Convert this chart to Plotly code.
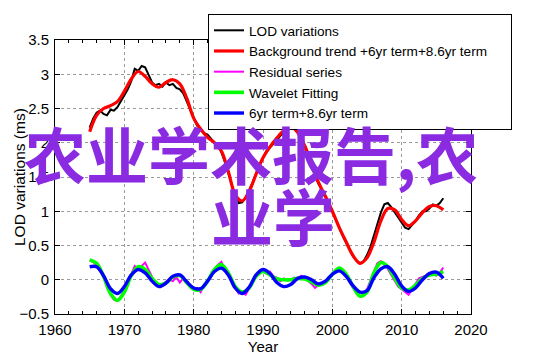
import plotly.graph_objects as go

# ---------------- data ----------------
years_half = [1965 + 0.5 * i for i in range(103)]   # 1965.0 ... 2016.0
years_full = list(range(1965, 2017))                 # 1965 ... 2016

lod_variations = [
    2.22, 2.35, 2.44, 2.47, 2.42, 2.40, 2.48, 2.47, 2.52, 2.60,   # 1965-1969.5
    2.70, 2.78, 2.90, 3.08, 3.05, 3.12, 3.10, 2.98, 2.88, 2.84,   # 1970-1974.5
    2.86, 2.82, 2.88, 2.84, 2.86, 2.80, 2.78, 2.72, 2.60, 2.48,   # 1975-1979.5
    2.35, 2.25, 2.20, 2.14, 2.12, 2.06, 2.00, 1.96, 1.86, 1.72,   # 1980-1984.5
    1.56, 1.38, 1.22, 1.12, 1.13, 1.20, 1.30, 1.42, 1.55, 1.68,   # 1985-1989.5
    1.78, 1.88, 1.93, 1.98, 2.04, 2.10, 2.15, 2.22, 2.30, 2.28,   # 1990-1994.5
    2.16, 2.05, 1.95, 1.80, 1.68, 1.52, 1.40, 1.32, 1.22, 1.12,   # 1995-1999.5
    1.00, 0.86, 0.74, 0.64, 0.54, 0.44, 0.34, 0.28, 0.24, 0.27,   # 2000-2004.5
    0.36, 0.48, 0.64, 0.82, 0.98, 1.10, 1.12, 1.06, 0.98, 0.90,   # 2005-2009.5
    0.84, 0.76, 0.74, 0.80, 0.86, 0.94, 1.00, 1.00, 1.04, 1.10,   # 2010-2014.5
    1.08, 1.12, 1.19,                                             # 2015-2016
]

background_trend = [
    2.16, 2.40, 2.50, 2.54, 2.60, 2.75, 2.93, 3.04, 2.97, 2.86,   # 1965-1974
    2.81, 2.88, 2.92, 2.86, 2.65, 2.36, 2.20, 2.08, 2.00, 1.88,   # 1975-1984
    1.58, 1.24, 1.15, 1.29, 1.54, 1.78, 1.94, 2.07, 2.18, 2.23,   # 1985-1994
    2.15, 1.96, 1.70, 1.42, 1.22, 1.00, 0.76, 0.55, 0.35, 0.24,   # 1995-2004
    0.32, 0.55, 0.86, 1.04, 1.02, 0.88, 0.79, 0.86, 0.98, 1.07,   # 2005-2014
    1.08, 1.02,                                                   # 2015-2016
]

residual_series = [
    0.28, 0.26, 0.22, 0.14, 0.04, -0.10, -0.22, -0.29, -0.31, -0.24,
    -0.16, -0.04, 0.08, 0.20, 0.17, 0.20, 0.25, 0.14, 0.04, -0.04,
    -0.08, -0.06, -0.03, 0.00, -0.02, 0.04, -0.04, 0.02, -0.05, -0.10,
    -0.14, -0.12, -0.18, -0.08, -0.02, 0.08, 0.16, 0.22, 0.26, 0.14,
    0.10, -0.02, -0.12, -0.20, -0.18, -0.22, -0.12, -0.04, 0.06, 0.10,
    0.12, 0.09, 0.12, 0.05, 0.03, -0.02, 0.02, -0.01, 0.00, 0.03,
    0.01, 0.06, 0.03, -0.02, -0.06, -0.12, -0.08, -0.06, -0.02, 0.04,
    0.08, 0.14, 0.17, 0.12, 0.06, -0.04, -0.12, -0.20, -0.24, -0.22,
    -0.14, 0.00, 0.12, 0.24, 0.27, 0.24, 0.16, 0.08, 0.00, -0.10,
    -0.14, -0.18, -0.22, -0.14, -0.06, 0.02, 0.04, 0.06, 0.10, 0.08,
    0.06, 0.10, 0.18,
]

wavelet_fitting = [
    0.29, 0.24, 0.05, -0.20, -0.30, -0.18, 0.06, 0.19, 0.15, 0.02,   # 1965-1974
    -0.07, -0.05, 0.04, 0.06, -0.04, -0.14, -0.14, -0.02, 0.15, 0.22,  # 1975-1984
    0.10, -0.10, -0.18, -0.12, 0.05, 0.12, 0.07, 0.01, 0.00, 0.00,    # 1985-1994
    0.02, 0.01, -0.03, -0.08, -0.04, 0.08, 0.17, 0.08, -0.10, -0.24,  # 1995-2004
    -0.18, 0.10, 0.25, 0.19, 0.02, -0.12, -0.15, -0.08, 0.02, 0.07,   # 2005-2014
    0.08, 0.12,                                                       # 2015-2016
]

six_plus_86_term = [
    0.19, 0.19, 0.06, -0.13, -0.20, -0.10, 0.07, 0.15, 0.10, -0.02,   # 1965-1974
    -0.10, -0.05, 0.05, 0.07, -0.03, -0.12, -0.13, -0.02, 0.12, 0.17,  # 1975-1984
    0.07, -0.12, -0.20, -0.11, 0.07, 0.15, 0.09, -0.04, -0.10, -0.07,  # 1985-1994
    0.02, 0.04, 0.00, -0.06, -0.02, 0.08, 0.13, 0.05, -0.09, -0.18,   # 1995-2004
    -0.16, 0.03, 0.16, 0.19, 0.08, -0.09, -0.17, -0.12, 0.00, 0.09,   # 2005-2014
    0.11, 0.02,                                                       # 2015-2016
]

x_ticks = [1960, 1970, 1980, 1990, 2000, 2010, 2020]
y_ticks = [-0.5, 0, 0.5, 1, 1.5, 2, 2.5, 3, 3.5]

legend_names = [
    "LOD variations",
    "Background trend +6yr term+8.6yr term",
    "Residual series",
    "Wavelet Fitting",
    "6yr term+8.6yr term",
]

x_title = "Year"
y_title = "LOD variations (ms)"
overlay_line1 = "农业学术报告,农"
overlay_line2 = "业学"

# ---------------- figure ----------------
fig = go.Figure()
fig.add_trace(go.Scatter(x=years_half, y=lod_variations, mode="lines",
                         name=legend_names[0], line=dict(color="black", width=2)))
fig.add_trace(go.Scatter(x=years_full, y=background_trend, mode="lines",
                         name=legend_names[1] + "\u00a0" * 5,
                         line=dict(color="#ff0000", width=3.2, shape="spline")))
fig.add_trace(go.Scatter(x=years_half, y=residual_series, mode="lines",
                         name=legend_names[2], line=dict(color="#ff00ff", width=2)))
fig.add_trace(go.Scatter(x=years_full, y=wavelet_fitting, mode="lines",
                         name=legend_names[3],
                         line=dict(color="#00ff00", width=3.6, shape="spline")))
fig.add_trace(go.Scatter(x=years_full, y=six_plus_86_term, mode="lines",
                         name=legend_names[4],
                         line=dict(color="#0000ff", width=3.4, shape="spline")))

axis_common = dict(
    showline=True, linecolor="black", linewidth=1, mirror="allticks",
    ticks="inside", ticklen=5, tickcolor="black", tickwidth=1,
    showgrid=True, gridcolor="#9a9a9a", griddash="dot", gridwidth=1,
    zeroline=False, automargin=False,
    tickfont=dict(family="Liberation Sans, Arial", size=15, color="black"),
)

fig.update_xaxes(
    range=[1960, 2020], tickvals=x_ticks, ticklabelstandoff=2,
    minor=dict(dtick=2, ticks="inside", ticklen=3, tickcolor="black", showgrid=False),
    title=dict(text=x_title, font=dict(family="Liberation Sans, Arial", size=15, color="black"),
               standoff=0),
    **axis_common,
)
fig.update_yaxes(
    range=[-0.5, 3.5], tickvals=y_ticks, ticklabelstandoff=2,
    **axis_common,
)

fig.update_layout(
    width=542, height=356,
    margin=dict(l=55, r=71, t=40, b=42, autoexpand=False),
    paper_bgcolor="white", plot_bgcolor="white",
    showlegend=True,
    legend=dict(
        x=0.3678, y=1.095, xanchor="left", yanchor="top",
        bgcolor="white", bordercolor="black", borderwidth=1,
        font=dict(family="Liberation Sans, Arial", size=13.6, color="black"),
        tracegroupgap=0, itemwidth=30,
    ),
)

# y-axis title placed as rotated text
fig.add_annotation(
    text=y_title, xref="paper", yref="paper", x=-0.0865, y=0.5,
    xanchor="center", yanchor="middle", textangle=-90, showarrow=False,
    font=dict(family="Liberation Sans, Arial", size=15.5, color="black"),
)

fig.add_annotation(
    text=overlay_line1, xref="paper", yref="paper",
    x=-0.079, y=0.586, xanchor="left", yanchor="middle", showarrow=False,
    font=dict(family="Noto Sans CJK SC", size=62, color="#8a2be2", weight="bold"),
)
fig.add_annotation(
    text=overlay_line2, xref="paper", yref="paper",
    x=0.370, y=0.361, xanchor="left", yanchor="middle", showarrow=False,
    font=dict(family="Noto Sans CJK SC", size=62, color="#8a2be2", weight="bold"),
)

fig.write_html(
    "out.html",
    config={"displayModeBar": False},
    post_script="document.body.style.margin='0';document.body.style.padding='0';",
)
